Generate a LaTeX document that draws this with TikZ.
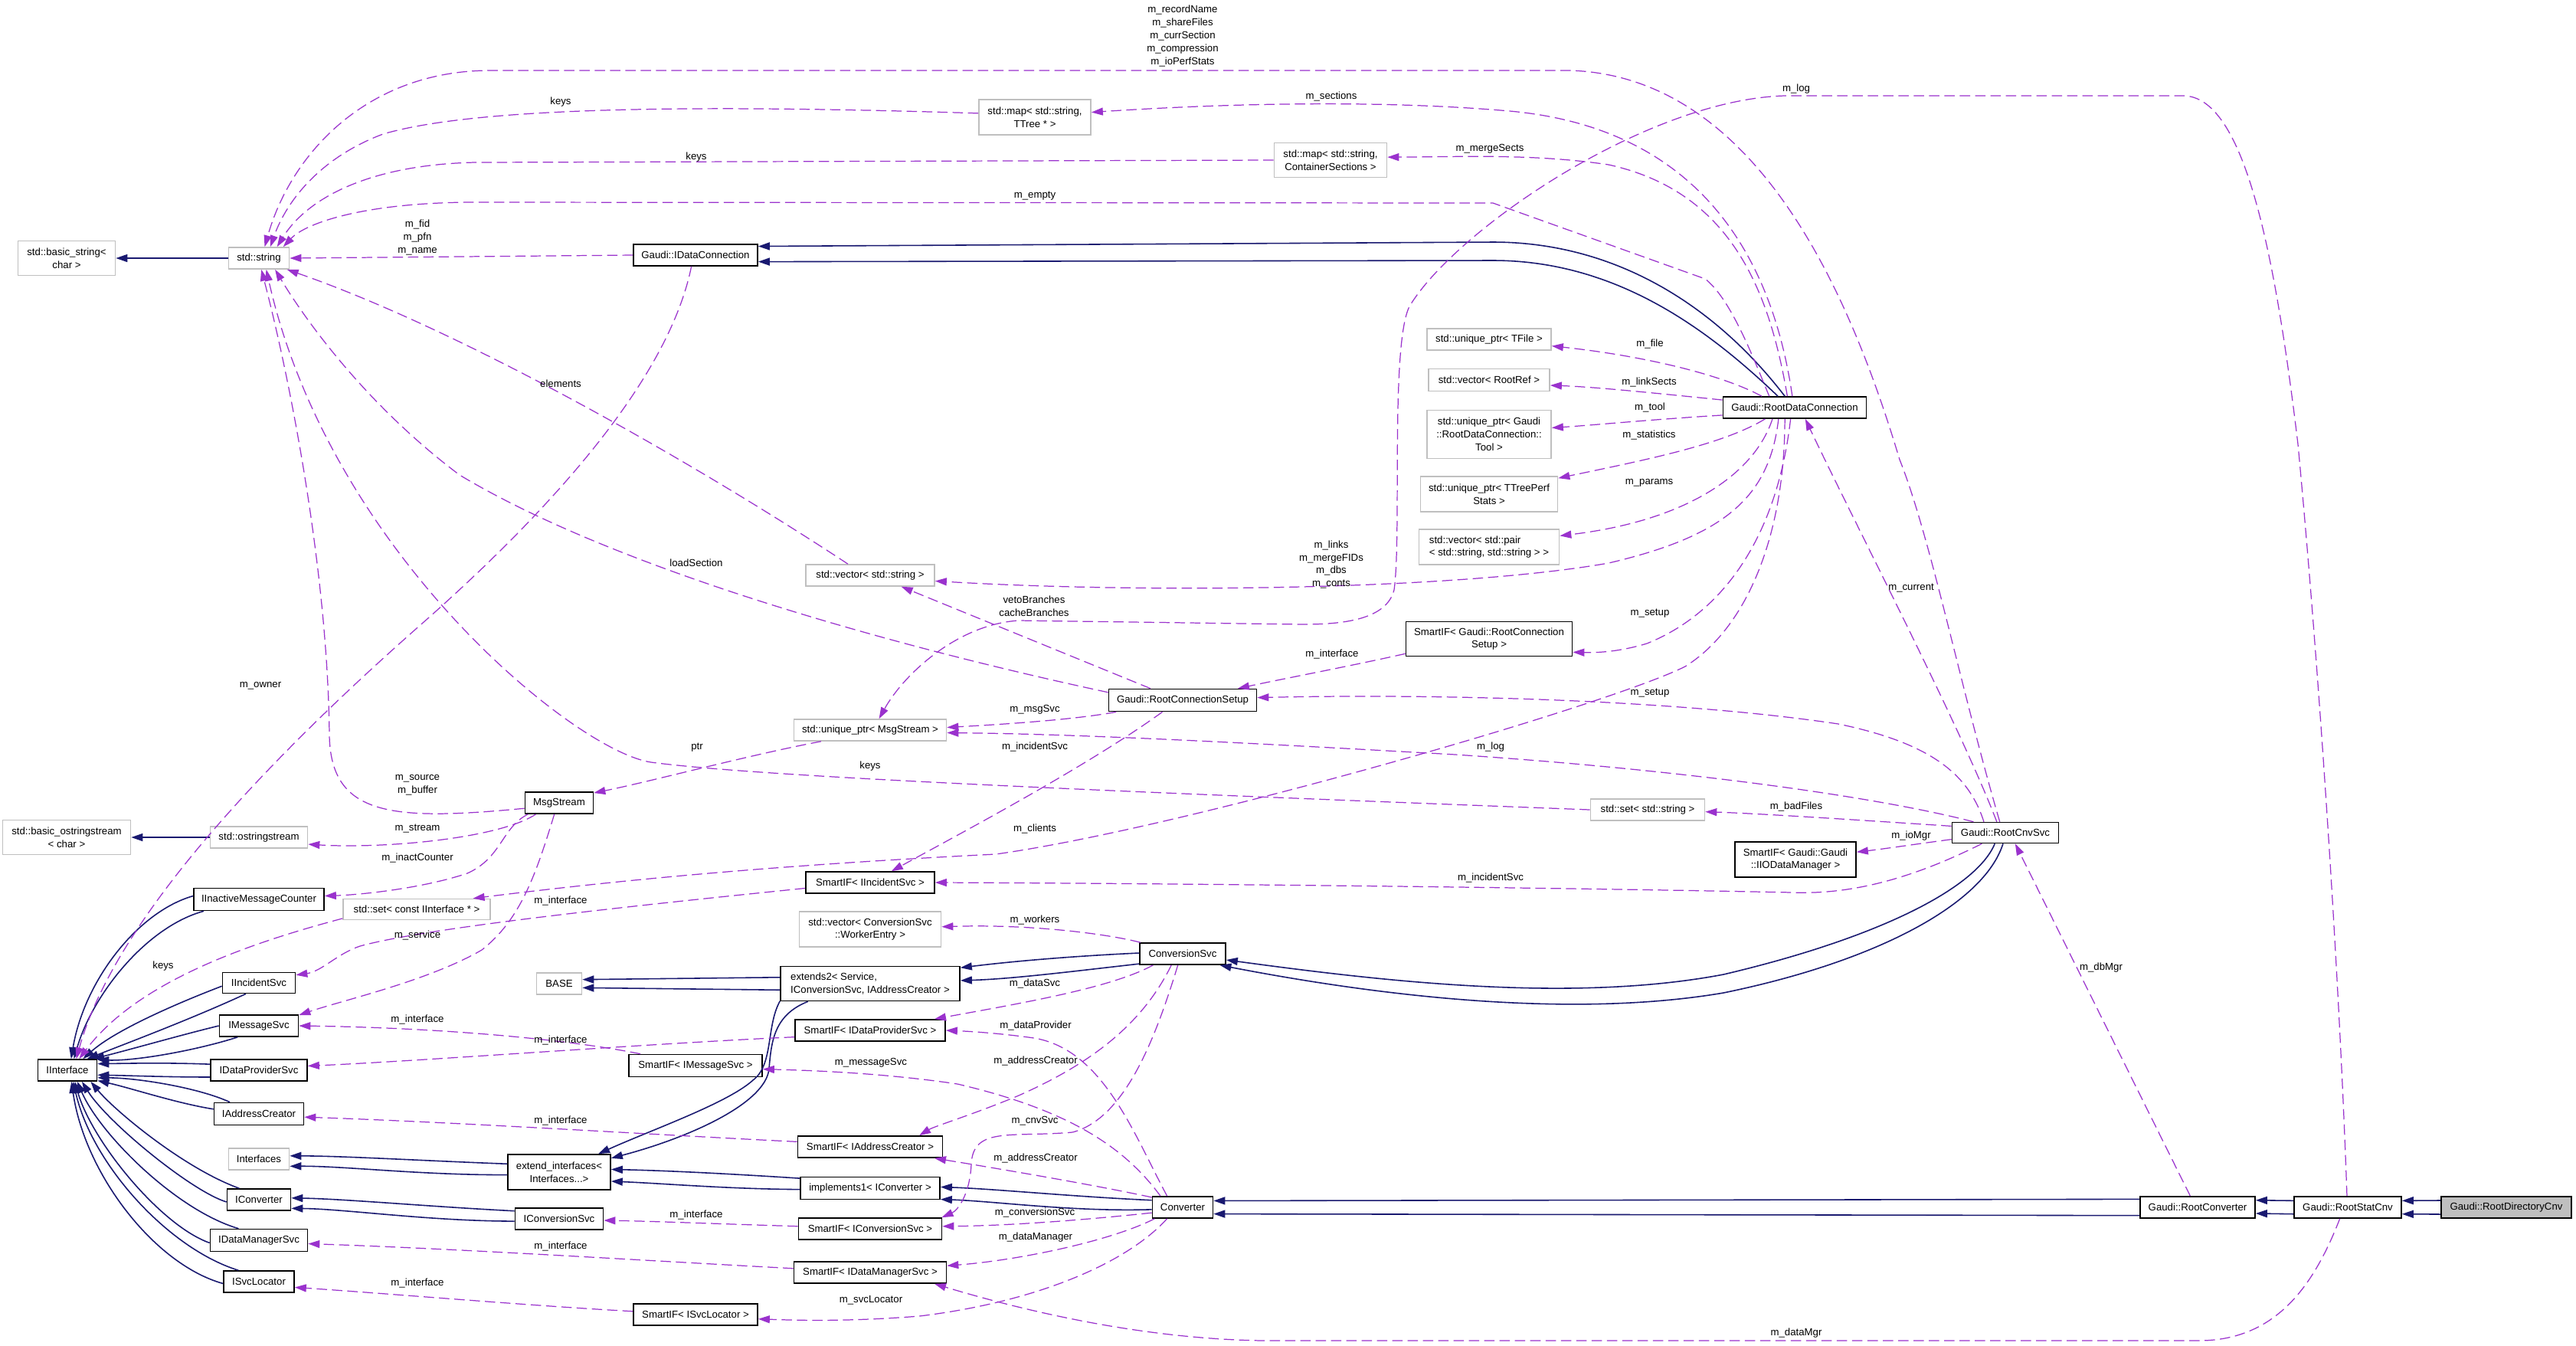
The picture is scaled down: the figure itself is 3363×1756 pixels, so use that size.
\documentclass[tikz,border=0pt]{standalone}
\usepackage{fontspec}
\setmainfont{Liberation Sans}
\usetikzlibrary{arrows.meta}
\definecolor{edgeblue}{RGB}{25,25,112}
\definecolor{orchid}{RGB}{154,50,205}
\definecolor{undoc}{RGB}{191,191,191}
\newcommand\dxfont{\fontsize{3.76}{4.78}\selectfont}
\tikzset{
  >={Triangle[length=0.15cm,width=0.1cm]},
  cls/.style={draw=black,fill=white,line width=0.45pt,inner sep=0pt,align=center,
    font=\dxfont,minimum height=0.28cm},
  stdcls/.style={cls,draw=undoc},
  curcls/.style={cls,fill=undoc},
  inherit/.style={->,draw=edgeblue,line width=0.45pt},
  member/.style={->,draw=orchid,line width=0.35pt,dash pattern=on 0.135cm off 0.065cm},
  lbl/.style={font=\dxfont,align=center,inner sep=0pt},
}

\begin{document}
\begin{tikzpicture}[x=0.01cm,y=-0.01cm]
  \path[fill=white,use as bounding box] (0,0) rectangle (3363,1756);

  % classes
  \node[stdcls,minimum width=1.27cm,minimum height=0.45cm] (basicstr) at (87,337) {std::basic\_string<\\char >};
  \node[stdcls,minimum width=0.79cm] (string) at (338,337) {std::string};
  \node[cls,minimum width=1.62cm] (idataconn) at (908,333) {Gaudi::IDataConnection};
  \node[stdcls,minimum width=1.46cm,minimum height=0.46cm] (mapttree) at (1351,153) {std::map< std::string,\\TTree * >};
  \node[stdcls,minimum width=1.47cm,minimum height=0.45cm] (mapcont) at (1737,209) {std::map< std::string,\\ContainerSections >};
  \node[stdcls,minimum width=1.62cm] (uptfile) at (1944,443) {std::unique\_ptr< TFile >};
  \node[stdcls,minimum width=1.58cm,minimum height=0.29cm] (vecrootref) at (1944,496) {std::vector< RootRef >};
  \node[stdcls,minimum width=1.62cm,minimum height=0.63cm] (uptool) at (1944,567) {std::unique\_ptr< Gaudi\\::RootDataConnection::\\Tool >};
  \node[stdcls,minimum width=1.79cm,minimum height=0.46cm] (upperf) at (1944,645) {std::unique\_ptr< TTreePerf\\Stats >};
  \node[stdcls,minimum width=1.83cm,minimum height=0.46cm,align=left] (vecpair) at (1944,714) {std::vector< std::pair\\< std::string, std::string > >};
  \node[cls,minimum width=1.87cm] (rdc) at (2343,532) {Gaudi::RootDataConnection};
  \node[stdcls,minimum width=1.68cm] (vecstring) at (1136,751) {std::vector< std::string >};
  \node[cls,minimum width=2.17cm,minimum height=0.45cm] (smartrcs) at (1944,834) {SmartIF< Gaudi::RootConnection\\Setup >};
  \node[cls,minimum width=1.93cm,minimum height=0.29cm] (rcs) at (1544,914) {Gaudi::RootConnectionSetup};
  \node[stdcls,minimum width=1.99cm] (upmsg) at (1136,953) {std::unique\_ptr< MsgStream >};
  \node[stdcls,minimum width=1.49cm] (setstring) at (2151,1057) {std::set< std::string >};
  \node[cls,minimum width=1.58cm,minimum height=0.46cm] (smartio) at (2344,1122) {SmartIF< Gaudi::Gaudi\\::IIODataManager >};
  \node[cls,minimum width=1.39cm,minimum height=0.27cm] (cnvsvc) at (2618,1087) {Gaudi::RootCnvSvc};
  \node[cls,minimum width=0.89cm] (msgstream) at (730,1048) {MsgStream};
  \node[stdcls,minimum width=1.67cm,minimum height=0.45cm] (basicostr) at (87,1093) {std::basic\_ostringstream\\< char >};
  \node[stdcls,minimum width=1.27cm] (ostr) at (338,1093) {std::ostringstream};
  \node[cls,minimum width=1.68cm] (smartinc) at (1136,1152) {SmartIF< IIncidentSvc >};
  \node[cls,minimum width=1.70cm,minimum height=0.29cm] (iimc) at (338,1174) {IInactiveMessageCounter};
  \node[stdcls,minimum width=1.92cm,minimum height=0.27cm] (setiface) at (544,1187) {std::set< const IInterface * >};
  \node[stdcls,minimum width=1.85cm,minimum height=0.46cm] (wevec) at (1136,1213) {std::vector< ConversionSvc\\::WorkerEntry >};
  \node[cls,minimum width=1.12cm] (convsvc) at (1544,1245) {ConversionSvc};
  \node[stdcls,minimum width=0.59cm] (base) at (730,1284) {BASE};
  \node[cls,minimum width=0.95cm,minimum height=0.27cm] (iinc) at (338,1283) {IIncidentSvc};
  \node[cls,minimum width=2.34cm,minimum height=0.45cm,align=left] (extends2) at (1136,1284) {extends2< Service,\\IConversionSvc, IAddressCreator >};
  \node[cls,minimum width=1.03cm] (imsg) at (338,1339) {IMessageSvc};
  \node[cls,minimum width=1.96cm] (smartdp) at (1136,1345) {SmartIF< IDataProviderSvc >};
  \node[cls,minimum width=1.74cm,minimum height=0.29cm] (smartmsg) at (908,1391) {SmartIF< IMessageSvc >};
  \node[cls,minimum width=0.77cm] (iiface) at (88,1397) {IInterface};
  \node[cls,minimum width=1.26cm] (idp) at (338,1397) {IDataProviderSvc};
  \node[cls,minimum width=1.17cm,minimum height=0.29cm] (iac) at (338,1454) {IAddressCreator};
  \node[cls,minimum width=1.89cm] (smartac) at (1136,1497) {SmartIF< IAddressCreator >};
  \node[stdcls,minimum width=0.79cm] (ifaces) at (338,1513) {Interfaces};
  \node[cls,minimum width=1.34cm,minimum height=0.46cm] (extif) at (730,1530) {extend\_interfaces<\\Interfaces...>};
  \node[cls,minimum width=1.82cm,minimum height=0.29cm] (impl1) at (1136,1551) {implements1< IConverter >};
  \node[cls,minimum width=0.79cm] (converter) at (1544,1576) {Converter};
  \node[cls,minimum width=0.83cm] (iconv) at (338,1566) {IConverter};
  \node[cls,minimum width=1.15cm] (icsvc) at (730,1591) {IConversionSvc};
  \node[cls,minimum width=1.87cm] (smartcs) at (1136,1604) {SmartIF< IConversionSvc >};
  \node[cls,minimum width=1.27cm,minimum height=0.29cm] (idms) at (338,1619) {IDataManagerSvc};
  \node[cls,minimum width=1.99cm] (smartdms) at (1136,1661) {SmartIF< IDataManagerSvc >};
  \node[cls,minimum width=0.92cm] (isl) at (338,1673) {ISvcLocator};
  \node[cls,minimum width=1.62cm] (smartsl) at (908,1716) {SmartIF< ISvcLocator >};
  \node[cls,minimum width=1.50cm] (rconv) at (2869,1576) {Gaudi::RootConverter};
  \node[cls,minimum width=1.40cm] (rstat) at (3065,1576) {Gaudi::RootStatCnv};
  \node[curcls,minimum width=1.70cm] (rdir) at (3272,1576) {Gaudi::RootDirectoryCnv};

  % inheritance
  \draw[inherit] (string.west) -- (basicstr.east);
  \draw[inherit] (ostr.west) -- (basicostr.east);
  \draw[inherit] (rdc.131) .. controls (2240,400) and (2110,316) .. (1949,316) -- (idataconn.8);
  \draw[inherit] (rdc.146) .. controls (2230,430) and (2110,340) .. (1949,340) -- (idataconn.-6);
  \draw[inherit] (iimc.177) .. controls (180,1190) and (110,1280) .. (iiface.72);
  \draw[inherit] (iimc.192) .. controls (190,1210) and (120,1300) .. (iiface.60);
  \draw[inherit] (iinc.185) .. controls (230,1310) and (150,1345) .. (iiface.36);
  \draw[inherit] (iinc.220) .. controls (250,1330) and (170,1360) .. (iiface.30);
  \draw[inherit] (imsg.west) .. controls (240,1350) and (170,1370) .. (iiface.24);
  \draw[inherit] (imsg.208) .. controls (260,1370) and (180,1385) .. (iiface.19);
  \draw[inherit] (idp.173) .. controls (220,1387) and (170,1388) .. (iiface.12);
  \draw[inherit] (idp.188) .. controls (220,1406) and (170,1404) .. (iiface.-9);
  \draw[inherit] (iac.158) .. controls (260,1420) and (180,1407) .. (iiface.-14);
  \draw[inherit] (iac.174) .. controls (230,1440) and (170,1420) .. (iiface.-19);
  \draw[inherit] (iconv.150) .. controls (240,1525) and (150,1450) .. (iiface.-26);
  \draw[inherit] (iconv.184) .. controls (250,1555) and (140,1465) .. (iiface.-38);
  \draw[inherit] (idms.150) .. controls (230,1580) and (130,1480) .. (iiface.-49);
  \draw[inherit] (idms.183) .. controls (210,1600) and (120,1490) .. (iiface.-57);
  \draw[inherit] (isl.151) .. controls (220,1630) and (120,1520) .. (iiface.-63);
  \draw[inherit] (isl.183) .. controls (200,1650) and (110,1530) .. (iiface.-70);
  \draw[inherit] (extif.171) .. controls (550,1515) and (450,1509) .. (ifaces.6);
  \draw[inherit] (extif.183) .. controls (550,1534) and (450,1522) .. (ifaces.-13);
  \draw[inherit] (icsvc.170) .. controls (560,1575) and (450,1565) .. (iconv.3);
  \draw[inherit] (icsvc.183) .. controls (560,1594) and (450,1578) .. (iconv.-15);
  \draw[inherit] (extends2.176) -- (base.10);
  \draw[inherit] (extends2.184) -- (base.-10);
  \draw[inherit] (extends2.191) .. controls (1000,1340) and (1010,1390) .. (983,1410) .. controls (950,1440) and (850,1475) .. (extif.25);
  \draw[inherit] (extends2.196) .. controls (1010,1325) and (1007,1360) .. (1004,1395) .. controls (1000,1440) and (900,1485) .. (extif.15);
  \draw[inherit] (impl1.172) .. controls (950,1532) and (870,1528) .. (extif.3);
  \draw[inherit] (impl1.181) .. controls (950,1552) and (870,1545) .. (extif.-10);
  \draw[inherit] (convsvc.179) .. controls (1400,1248) and (1320,1255) .. (extends2.10);
  \draw[inherit] (convsvc.193) .. controls (1400,1268) and (1320,1278) .. (extends2.2);
  \draw[inherit] (converter.167) .. controls (1400,1562) and (1300,1552) .. (impl1.1);
  \draw[inherit] (converter.184) .. controls (1400,1582) and (1300,1568) .. (impl1.-9);
  \draw[inherit] (cnvsvc.226) .. controls (2580,1160) and (2450,1225) .. (2250,1272) .. controls (2050,1310) and (1800,1280) .. (convsvc.-8);
  \draw[inherit] (cnvsvc.258) .. controls (2590,1180) and (2450,1255) .. (2250,1296) .. controls (2050,1330) and (1800,1300) .. (convsvc.-17);
  \draw[inherit] (rconv.172) -- (converter.12);
  \draw[inherit] (rconv.188) -- (converter.-12);
  \draw[inherit] (rstat.173) -- (rconv.7);
  \draw[inherit] (rstat.187) -- (rconv.-6);
  \draw[inherit] (rdir.174) -- (rstat.7);
  \draw[inherit] (rdir.186) -- (rstat.-7);

  % members
  \draw[member] (cnvsvc.117) .. controls (2560,900) and (2520,700) .. (2480,600) .. controls (2420,400) and (2300,100) .. (2050,92) -- (640,92) .. controls (480,92) and (380,200) .. (string.63);
  \draw[member] (mapttree.176) .. controls (900,136) and (620,140) .. (500,175) .. controls (420,205) and (375,260) .. (string.45);
  \draw[member] (rdc.102) .. controls (2320,380) and (2250,170) .. (1971,145) .. controls (1800,130) and (1600,135) .. (mapttree.5);
  \draw[member] (mapcont.west) -- (620,212) .. controls (480,215) and (400,260) .. (string.32);
  \draw[member] (rdc.123) .. controls (2310,380) and (2260,250) .. (2100,215) .. controls (2000,200) and (1900,205) .. (mapcont.3);
  \draw[member] (rdc.156) .. controls (2290,470) and (2260,390) .. (2226,364) -- (1949,265) -- (620,264) .. controls (480,264) and (400,290) .. (string.25);
  \draw[member] (idataconn.west) -- (string.east);
  \draw[member] (vecstring.153) .. controls (900,600) and (600,430) .. (string.-22);
  \draw[member] (rcs.174) .. controls (1150,840) and (800,740) .. (600,620) .. controls (480,530) and (400,420) .. (string.-35);
  \draw[member] (msgstream.189) .. controls (510,1072) and (432,1065) .. (430,960) .. controls (428,750) and (380,500) .. (string.-78);
  \draw[member] (setstring.west) .. controls (1500,1035) and (1000,1015) .. (850,995) .. controls (750,980) and (430,720) .. (string.-57);
  \draw[member] (idataconn.250) .. controls (880,460) and (780,610) .. (560,806) .. controls (350,990) and (150,1200) .. (iiface.52);
  \draw[member] (setiface.187) .. controls (330,1230) and (180,1280) .. (iiface.44);
  \draw[member] (upmsg.193) .. controls (980,985) and (850,1020) .. (msgstream.16);
  \draw[member] (msgstream.206) .. controls (650,1095) and (500,1108) .. (ostr.-8);
  \draw[member] (msgstream.200) .. controls (655,1080) and (655,1120) .. (610,1140) .. controls (550,1160) and (470,1168) .. (iimc.3);
  \draw[member] (msgstream.247) .. controls (700,1140) and (680,1200) .. (629,1240) .. controls (560,1280) and (450,1305) .. (imsg.15);
  \draw[member] (smartinc.185) .. controls (850,1180) and (560,1210) .. (470,1235) .. controls (440,1245) and (420,1268) .. (iinc.12);
  \draw[member] (rdc.229) .. controls (2330,700) and (2280,820) .. (2200,870) .. controls (2100,920) and (1550,1080) .. (1300,1115) .. controls (1000,1130) and (800,1150) .. (setiface.11);
  \draw[member] (rdc.161) .. controls (2250,490) and (2150,465) .. (uptfile.-6);
  \draw[member] (rdc.174) .. controls (2150,512) and (2080,505) .. (vecrootref.-5);
  \draw[member] (rdc.186) .. controls (2150,548) and (2080,555) .. (uptool.6);
  \draw[member] (rdc.201) .. controls (2250,580) and (2150,600) .. (upperf.13);
  \draw[member] (rdc.207) .. controls (2290,620) and (2200,680) .. (vecpair.9);
  \draw[member] (rdc.215) .. controls (2310,650) and (2250,700) .. (2100,735) .. controls (1900,770) and (1500,775) .. (vecstring.-5);
  \draw[member] (rdc.250) .. controls (2320,700) and (2250,800) .. (2150,840) .. controls (2110,852) and (2080,852) .. (smartrcs.-9);
  \draw[member] (cnvsvc.128) .. controls (2560,950) and (2420,680) .. (rdc.-47);
  \draw[member] (cnvsvc.153) .. controls (2570,1010) and (2520,970) .. (2400,945) .. controls (2200,915) and (1900,905) .. (rcs.2);
  \draw[member] (smartrcs.190) .. controls (1760,870) and (1680,885) .. (rcs.12);
  \draw[member] (cnvsvc.161) .. controls (2450,1040) and (2200,1005) .. (1900,985) .. controls (1600,968) and (1400,958) .. (upmsg.-2);
  \draw[member] (rcs.190) .. controls (1400,940) and (1300,946) .. (upmsg.2);
  \draw[member] (rcs.210) .. controls (1420,1000) and (1250,1090) .. (smartinc.28);
  \draw[member] (rcs.160) -- (vecstring.-20);
  \draw[member] (rstat.94) .. controls (3055,1300) and (3030,900) .. (3000,580) .. controls (2970,330) and (2930,125) .. (2850,125) -- (2330,125) .. controls (2150,130) and (1900,300) .. (1840,400) .. controls (1815,450) and (1830,700) .. (1820,770) .. controls (1810,810) and (1750,815) .. (1700,815) -- (1330,810) .. controls (1250,815) and (1180,880) .. (upmsg.52);
  \draw[member] (rstat.235) .. controls (3020,1680) and (2970,1750) .. (2870,1750) -- (1650,1750) .. controls (1500,1748) and (1350,1715) .. (smartdms.-10);
  \draw[member] (rconv.123) -- (cnvsvc.-48);
  \draw[member] (cnvsvc.173) .. controls (2450,1072) and (2300,1062) .. (setstring.-2);
  \draw[member] (cnvsvc.187) .. controls (2500,1102) and (2460,1108) .. (smartio.7);
  \draw[member] (cnvsvc.205) .. controls (2500,1145) and (2420,1168) .. (2340,1165) .. controls (2000,1158) and (1500,1153) .. (smartinc.east);
  \draw[member] (convsvc.165) .. controls (1450,1220) and (1350,1206) .. (wevec.2);
  \draw[member] (convsvc.201) .. controls (1450,1290) and (1330,1310) .. (smartdp.10);
  \draw[member] (convsvc.225) .. controls (1490,1340) and (1420,1390) .. (1330,1430) .. controls (1270,1455) and (1220,1470) .. (smartac.13);
  \draw[member] (convsvc.247) .. controls (1510,1350) and (1470,1460) .. (1400,1478) .. controls (1320,1485) and (1270,1470) .. (1268,1520) .. controls (1266,1560) and (1250,1580) .. (smartcs.9);
  \draw[member] (converter.144) .. controls (1480,1480) and (1440,1370) .. (1350,1355) .. controls (1300,1348) and (1260,1346) .. (smartdp.0);
  \draw[member] (converter.153) .. controls (1470,1500) and (1400,1450) .. (1250,1415) .. controls (1150,1400) and (1050,1397) .. (smartmsg.-3);
  \draw[member] (converter.162) .. controls (1420,1545) and (1300,1525) .. (smartac.-10);
  \draw[member] (converter.190) .. controls (1420,1592) and (1320,1600) .. (smartcs.2);
  \draw[member] (converter.202) .. controls (1450,1620) and (1330,1645) .. (smartdms.5);
  \draw[member] (converter.216) .. controls (1470,1650) and (1350,1700) .. (1200,1718) .. controls (1100,1726) and (1030,1723) .. (smartsl.-4);
  \draw[member] (smartmsg.168) .. controls (760,1360) and (600,1342) .. (imsg.east);
  \draw[member] (smartdp.185) .. controls (850,1362) and (550,1385) .. (idp.5);
  \draw[member] (smartac.176) .. controls (850,1481) and (600,1465) .. (iac.-4);
  \draw[member] (smartcs.178) .. controls (950,1598) and (850,1594) .. (icsvc.-2);
  \draw[member] (smartdms.177) .. controls (850,1646) and (600,1630) .. (idms.-4);
  \draw[member] (smartsl.177) .. controls (700,1705) and (500,1688) .. (isl.-9);

  % edge labels
  \node[lbl] (lrec) at (1544,47) {m\_recordName\\m\_shareFiles\\m\_currSection\\m\_compression\\m\_ioPerfStats};
  \node[lbl] (lkeysa) at (732,133) {keys};
  \node[lbl] (lsect) at (1738,126) {m\_sections};
  \node[lbl] (lloga) at (2345,116) {m\_log};
  \node[lbl] (lkeysb) at (909,205) {keys};
  \node[lbl] (lmerge) at (1945,194) {m\_mergeSects};
  \node[lbl] (lempty) at (1351,256) {m\_empty};
  \node[lbl] (lfid) at (545,310) {m\_fid\\m\_pfn\\m\_name};
  \node[lbl] (lfile) at (2154,449) {m\_file};
  \node[lbl] (llinksect) at (2153,499) {m\_linkSects};
  \node[lbl] (ltool) at (2154,532) {m\_tool};
  \node[lbl] (lstats) at (2153,568) {m\_statistics};
  \node[lbl] (lelem) at (732,501) {elements};
  \node[lbl] (lparams) at (2153,630) {m\_params};
  \node[lbl] (llinks) at (1738,737) {m\_links\\m\_mergeFIDs\\m\_dbs\\m\_conts};
  \node[lbl] (lload) at (909,735) {loadSection};
  \node[lbl] (lveto) at (1350,791) {vetoBranches\\cacheBranches};
  \node[lbl] (lcurrent) at (2495,768) {m\_current};
  \node[lbl] (lsetupa) at (2154,801) {m\_setup};
  \node[lbl] (lifacea) at (1739,854) {m\_interface};
  \node[lbl] (lowner) at (340,895) {m\_owner};
  \node[lbl] (lsetupb) at (2154,905) {m\_setup};
  \node[lbl] (lmsgsvc) at (1351,926) {m\_msgSvc};
  \node[lbl] (linca) at (1351,975) {m\_incidentSvc};
  \node[lbl] (lptr) at (910,976) {ptr};
  \node[lbl] (llogb) at (1946,975) {m\_log};
  \node[lbl] (lkeysc) at (1136,1000) {keys};
  \node[lbl] (lsource) at (545,1025) {m\_source\\m\_buffer};
  \node[lbl] (lbad) at (2345,1053) {m\_badFiles};
  \node[lbl] (lstream) at (545,1082) {m\_stream};
  \node[lbl] (lclients) at (1351,1082) {m\_clients};
  \node[lbl] (liomgr) at (2495,1091) {m\_ioMgr};
  \node[lbl] (linact) at (545,1120) {m\_inactCounter};
  \node[lbl] (lincb) at (1946,1146) {m\_incidentSvc};
  \node[lbl] (lifaceb) at (732,1176) {m\_interface};
  \node[lbl] (lworkers) at (1351,1201) {m\_workers};
  \node[lbl] (lservice) at (545,1221) {m\_service};
  \node[lbl] (lkeysd) at (213,1261) {keys};
  \node[lbl] (ldbmgr) at (2743,1263) {m\_dbMgr};
  \node[lbl] (ldatasvc) at (1351,1284) {m\_dataSvc};
  \node[lbl] (lifacec) at (545,1331) {m\_interface};
  \node[lbl] (ldataprov) at (1352,1339) {m\_dataProvider};
  \node[lbl] (lifaced) at (732,1358) {m\_interface};
  \node[lbl] (lmsgsvcb) at (1137,1387) {m\_messageSvc};
  \node[lbl] (laddra) at (1352,1385) {m\_addressCreator};
  \node[lbl] (lcnvsvc) at (1351,1463) {m\_cnvSvc};
  \node[lbl] (lifacee) at (732,1463) {m\_interface};
  \node[lbl] (laddrb) at (1352,1512) {m\_addressCreator};
  \node[lbl] (lconvsvc) at (1351,1583) {m\_conversionSvc};
  \node[lbl] (lifacef) at (909,1586) {m\_interface};
  \node[lbl] (ldataman) at (1352,1615) {m\_dataManager};
  \node[lbl] (lifaceg) at (732,1627) {m\_interface};
  \node[lbl] (lifaceh) at (545,1675) {m\_interface};
  \node[lbl] (lsvcloc) at (1137,1697) {m\_svcLocator};
  \node[lbl] (ldatamgr) at (2345,1740) {m\_dataMgr};
\end{tikzpicture}
\end{document}
